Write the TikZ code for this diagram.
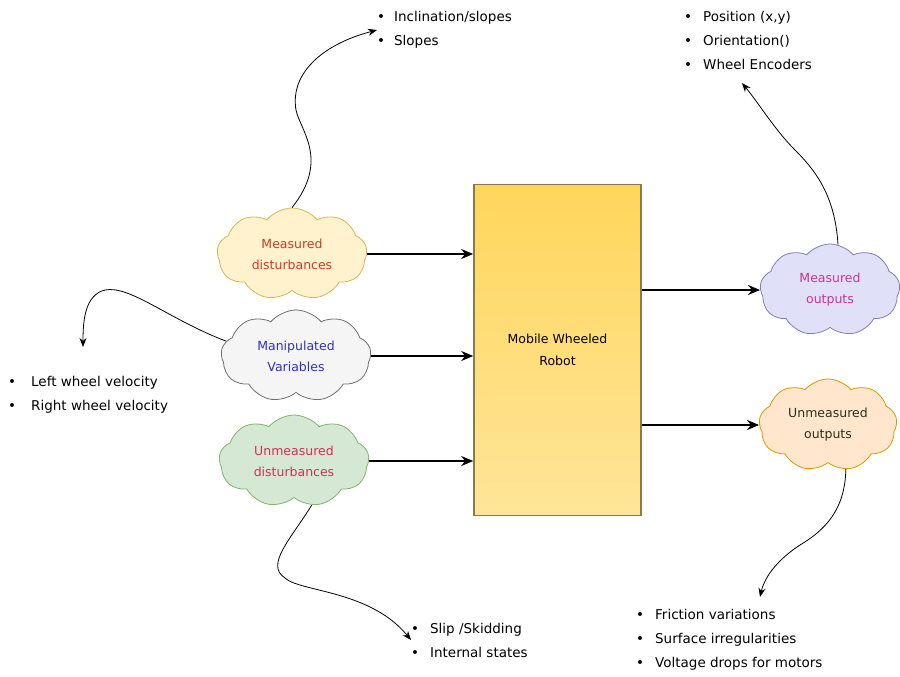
\documentclass[tikz,border=0pt]{standalone}
\usepackage{fontspec}
\setmainfont{DejaVu Sans}
\usepackage{tikz}
\usetikzlibrary{shapes}
\usetikzlibrary{shapes.symbols}
\usetikzlibrary{arrows,arrows.meta}
\usepackage{xcolor}
\definecolor{robottop}{RGB}{255,214,92}
\definecolor{robotbot}{RGB}{255,229,152}
\definecolor{robotline}{RGB}{138,120,84}
\definecolor{mdfill}{RGB}{255,242,204}
\definecolor{mdline}{RGB}{214,182,86}
\definecolor{mdtext}{RGB}{200,62,42}
\definecolor{mvfill}{RGB}{245,245,245}
\definecolor{mvline}{RGB}{110,110,110}
\definecolor{mvtext}{RGB}{48,48,196}
\definecolor{udfill}{RGB}{213,232,212}
\definecolor{udline}{RGB}{130,179,102}
\definecolor{udtext}{RGB}{208,48,90}
\definecolor{mofill}{RGB}{224,224,248}
\definecolor{moline}{RGB}{128,128,176}
\definecolor{motext}{RGB}{204,51,153}
\definecolor{uofill}{RGB}{255,230,204}
\definecolor{uoline}{RGB}{215,155,0}
\definecolor{uotext}{RGB}{46,46,30}
\tikzset{
	cloud node/.style={cloud,cloud puffs=9,cloud puff arc=100,aspect=1.7,draw,line width=0.8pt,align=center,
		minimum width=150pt,minimum height=92pt,inner sep=0pt,font=\fontsize{12.5}{21}\selectfont},
	robot node/.style={rectangle,draw=robotline,line width=1.6pt,top color=robottop,bottom color=robotbot,
		minimum width=167pt,minimum height=331pt,align=center,font=\fontsize{12.5}{22}\selectfont},
	list node/.style={anchor=west,align=left,inner sep=0pt,font=\fontsize{13.5}{24}\selectfont},
	flow/.style={-{Stealth[length=12pt,width=10pt]},line width=1.8pt},
	side/.style={-{Stealth[length=9pt,width=7pt]},line width=0.8pt}
}

\begin{document}
\begin{tikzpicture}[x=1pt,y=-1pt]
	\useasboundingbox (0,0) rectangle (900,677);
	\node [robot node] (robot) at (557.5,350) {Mobile Wheeled\\Robot};
	\node [cloud node,fill=mdfill,draw=mdline,text=mdtext] (md) at (292,254) {Measured\\disturbances};
	\node [cloud node,fill=mvfill,draw=mvline,text=mvtext] (mv) at (296,356) {Manipulated\\Variables};
	\node [cloud node,fill=udfill,draw=udline,text=udtext] (ud) at (294,461) {Unmeasured\\disturbances};
	\node [cloud node,fill=mofill,draw=moline,text=motext,minimum width=140pt] (mo) at (830,290) {Measured\\outputs};
	\node [cloud node,fill=uofill,draw=uoline,text=uotext,minimum width=138pt] (uo) at (828,425) {Unmeasured\\outputs};

	\node [list node] (slopes) at (377,30) {\textbullet\hspace{9pt}Inclination/slopes\\\textbullet\hspace{9pt}Slopes};
	\node [list node] (pose) at (684,40) {\textbullet\hspace{11pt}Position (x,y)\\\textbullet\hspace{11pt}Orientation()\\\textbullet\hspace{11pt}Wheel Encoders};
	\node [list node] (wheels) at (8,395) {\textbullet\hspace{15pt}Left wheel velocity\\\textbullet\hspace{15pt}Right wheel velocity};
	\node [list node] (slip) at (411,640) {\textbullet\hspace{11pt}Slip /Skidding\\\textbullet\hspace{11pt}Internal states};
	\node [list node] (friction) at (636,640) {\textbullet\hspace{11pt}Friction variations\\\textbullet\hspace{11pt}Surface irregularities\\\textbullet\hspace{11pt}Voltage drops for motors};

	\coordinate (poseTip) at (742,83);
	\coordinate (wheelsTip) at (83,347);
	\coordinate (frictionTip) at (760,597);

	\draw [flow] (md.east) -- (md.east -| robot.west);
	\draw [flow] (mv.east) -- (mv.east -| robot.west);
	\draw [flow] (ud.east) -- (ud.east -| robot.west);
	\draw [flow] (robot.east |- mo.west) -- (mo.west);
	\draw [flow] (robot.east |- uo.west) -- (uo.west);

	\draw [side] (md.north) .. controls (330,160) and (300,130) .. (296,110)
		.. controls (290,75) and (320,45) .. (slopes.west);
	\draw [side] (mv.168) .. controls (170,320) and (130,285) .. (105,290)
		.. controls (85,295) and (83,320) .. (wheelsTip);
	\draw [side] (ud.-68) .. controls (290,540) and (265,565) .. (285,578)
		.. controls (300,592) and (370,590) .. (slip.west);
	\draw [side] (mo.80) .. controls (835,195) and (815,170) .. (795,150)
		.. controls (775,130) and (760,105) .. (poseTip);
	\draw [side] (uo.-68) .. controls (845,510) and (825,530) .. (800,545)
		.. controls (780,558) and (765,575) .. (frictionTip);
\end{tikzpicture}
\end{document}
